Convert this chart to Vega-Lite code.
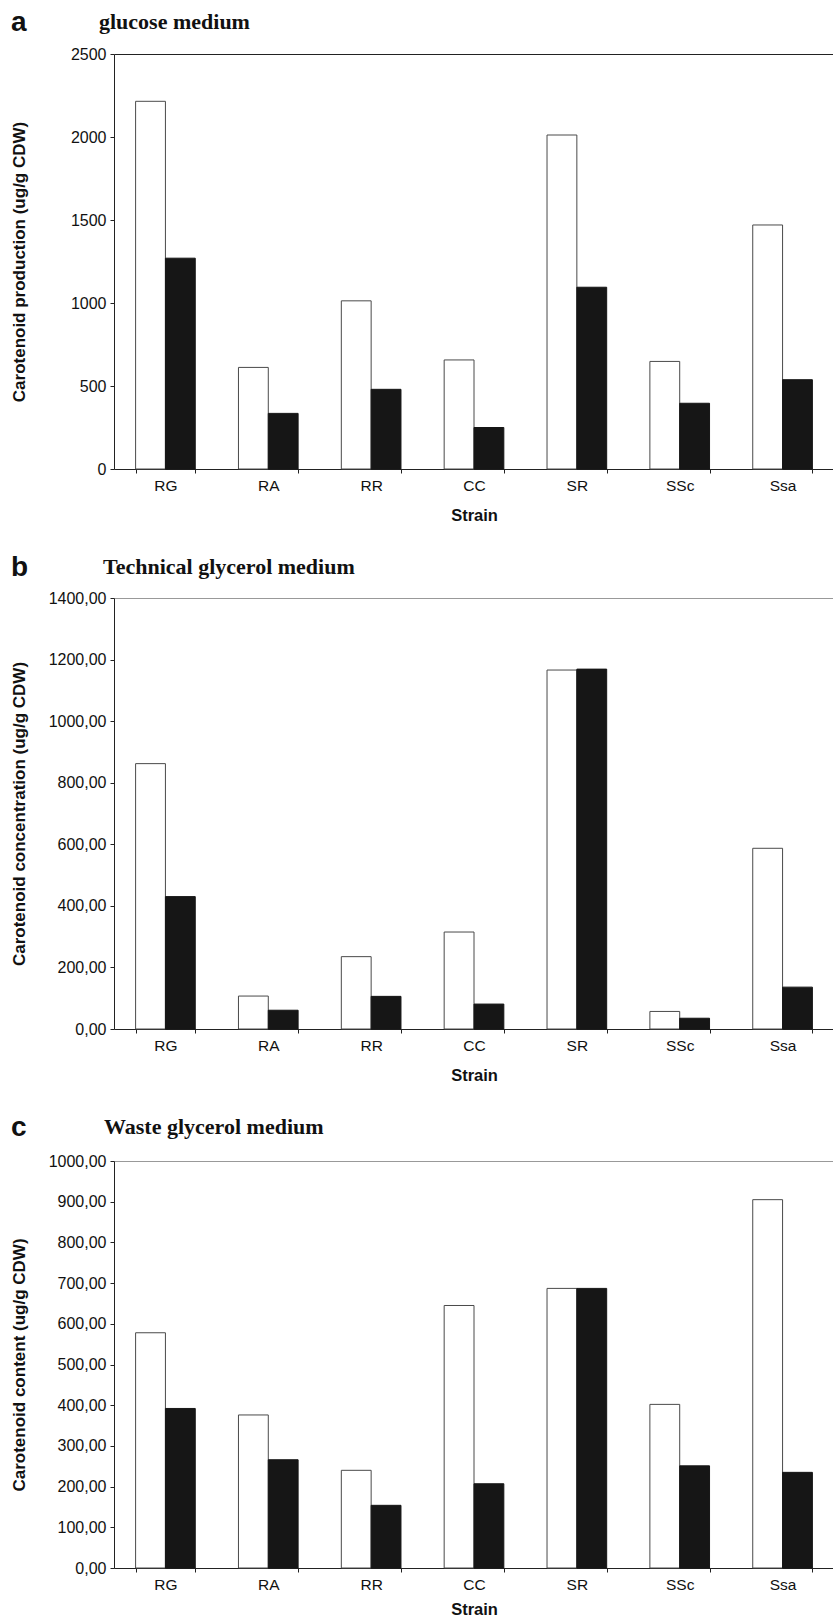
{
  "$schema": "https://vega.github.io/schema/vega-lite/v6.json",
  "background": "white",
  "padding": {"left": 9, "top": 9, "right": 0, "bottom": 0},
  "datasets": {
    "a": [
      {"strain": "RG", "series": "1", "value": 2215}, {"strain": "RG", "series": "2", "value": 1270},
      {"strain": "RA", "series": "1", "value": 612}, {"strain": "RA", "series": "2", "value": 335},
      {"strain": "RR", "series": "1", "value": 1013}, {"strain": "RR", "series": "2", "value": 480},
      {"strain": "CC", "series": "1", "value": 657}, {"strain": "CC", "series": "2", "value": 250},
      {"strain": "SR", "series": "1", "value": 2012}, {"strain": "SR", "series": "2", "value": 1095},
      {"strain": "SSc", "series": "1", "value": 648}, {"strain": "SSc", "series": "2", "value": 396},
      {"strain": "Ssa", "series": "1", "value": 1470}, {"strain": "Ssa", "series": "2", "value": 538}
    ],
    "b": [
      {"strain": "RG", "series": "1", "value": 862}, {"strain": "RG", "series": "2", "value": 430},
      {"strain": "RA", "series": "1", "value": 107}, {"strain": "RA", "series": "2", "value": 61},
      {"strain": "RR", "series": "1", "value": 235}, {"strain": "RR", "series": "2", "value": 106},
      {"strain": "CC", "series": "1", "value": 315}, {"strain": "CC", "series": "2", "value": 81},
      {"strain": "SR", "series": "1", "value": 1166}, {"strain": "SR", "series": "2", "value": 1169},
      {"strain": "SSc", "series": "1", "value": 57}, {"strain": "SSc", "series": "2", "value": 35},
      {"strain": "Ssa", "series": "1", "value": 587}, {"strain": "Ssa", "series": "2", "value": 136}
    ],
    "c": [
      {"strain": "RG", "series": "1", "value": 578}, {"strain": "RG", "series": "2", "value": 392},
      {"strain": "RA", "series": "1", "value": 376}, {"strain": "RA", "series": "2", "value": 266},
      {"strain": "RR", "series": "1", "value": 240}, {"strain": "RR", "series": "2", "value": 154},
      {"strain": "CC", "series": "1", "value": 645}, {"strain": "CC", "series": "2", "value": 207},
      {"strain": "SR", "series": "1", "value": 687}, {"strain": "SR", "series": "2", "value": 687},
      {"strain": "SSc", "series": "1", "value": 402}, {"strain": "SSc", "series": "2", "value": 251},
      {"strain": "Ssa", "series": "1", "value": 905}, {"strain": "Ssa", "series": "2", "value": 235}
    ]
  },
  "spacing": 30,
  "vconcat": [
    {
      "title": {"text": "a", "anchor": "start", "frame": "bounds", "dx": 1, "font": "Liberation Sans", "fontSize": 28, "fontWeight": "bold", "offset": -26, "color": "#111"},
      "vconcat": [
        {
          "title": {"text": "glucose medium", "anchor": "start", "frame": "group", "dx": -15, "font": "Liberation Serif", "fontSize": 22, "fontWeight": "bold", "offset": 12, "color": "#111"},
          "width": 720, "height": 415,
          "data": {"name": "a"},
          "mark": {"type": "bar", "strokeWidth": 1},
          "encoding": {
            "x": {"field": "strain", "type": "nominal", "sort": ["RG", "RA", "RR", "CC", "SR", "SSc", "Ssa"],
                  "scale": {"paddingInner": 0.42, "paddingOuter": 0.21},
                  "axis": {"title": "Strain", "labelAngle": 0, "tickBand": "extent", "titlePadding": 14}},
            "xOffset": {"field": "series", "type": "nominal", "scale": {"paddingInner": 0, "paddingOuter": 0}},
            "y": {"field": "value", "type": "quantitative", "scale": {"domain": [0, 2500], "nice": false},
                  "axis": {"title": "Carotenoid production (ug/g CDW)", "values": [0, 500, 1000, 1500, 2000, 2500], "format": "d", "titleX": -95,
                           "gridColor": {"condition": {"test": "datum.value === 2500", "value": "#222"}, "value": "transparent"}}},
            "fill": {"field": "series", "type": "nominal", "scale": {"domain": ["1", "2"], "range": ["#ffffff", "#161616"]}, "legend": null},
            "stroke": {"field": "series", "type": "nominal", "scale": {"domain": ["1", "2"], "range": ["#4a4a4a", "#161616"]}, "legend": null}
          }
        }
      ]
    },
    {
      "title": {"text": "b", "anchor": "start", "frame": "bounds", "dx": 1, "font": "Liberation Sans", "fontSize": 28, "fontWeight": "bold", "offset": -26, "color": "#111"},
      "vconcat": [
        {
          "title": {"text": "Technical glycerol medium", "anchor": "start", "frame": "group", "dx": -11, "font": "Liberation Serif", "fontSize": 22, "fontWeight": "bold", "offset": 11, "color": "#111"},
          "width": 720, "height": 431,
          "data": {"name": "b"},
          "mark": {"type": "bar", "strokeWidth": 1},
          "encoding": {
            "x": {"field": "strain", "type": "nominal", "sort": ["RG", "RA", "RR", "CC", "SR", "SSc", "Ssa"],
                  "scale": {"paddingInner": 0.42, "paddingOuter": 0.21},
                  "axis": {"title": "Strain", "labelAngle": 0, "tickBand": "extent", "titlePadding": 14}},
            "xOffset": {"field": "series", "type": "nominal", "scale": {"paddingInner": 0, "paddingOuter": 0}},
            "y": {"field": "value", "type": "quantitative", "scale": {"domain": [0, 1400], "nice": false},
                  "axis": {"title": "Carotenoid concentration (ug/g CDW)", "values": [0, 200, 400, 600, 800, 1000, 1200, 1400], "labelExpr": "replace(format(datum.value, '.2f'), '.', ',')", "titleX": -95,
                           "gridColor": {"condition": {"test": "datum.value === 1400", "value": "#999"}, "value": "transparent"}}},
            "fill": {"field": "series", "type": "nominal", "scale": {"domain": ["1", "2"], "range": ["#ffffff", "#161616"]}, "legend": null},
            "stroke": {"field": "series", "type": "nominal", "scale": {"domain": ["1", "2"], "range": ["#4a4a4a", "#161616"]}, "legend": null}
          }
        }
      ]
    },
    {
      "title": {"text": "c", "anchor": "start", "frame": "bounds", "dx": 1, "font": "Liberation Sans", "fontSize": 28, "fontWeight": "bold", "offset": -26, "color": "#111"},
      "vconcat": [
        {
          "title": {"text": "Waste glycerol medium", "anchor": "start", "frame": "group", "dx": -10, "font": "Liberation Serif", "fontSize": 22, "fontWeight": "bold", "offset": 14, "color": "#111"},
          "width": 720, "height": 407,
          "data": {"name": "c"},
          "mark": {"type": "bar", "strokeWidth": 1},
          "encoding": {
            "x": {"field": "strain", "type": "nominal", "sort": ["RG", "RA", "RR", "CC", "SR", "SSc", "Ssa"],
                  "scale": {"paddingInner": 0.42, "paddingOuter": 0.21},
                  "axis": {"title": "Strain", "labelAngle": 0, "tickBand": "extent", "titlePadding": 9}},
            "xOffset": {"field": "series", "type": "nominal", "scale": {"paddingInner": 0, "paddingOuter": 0}},
            "y": {"field": "value", "type": "quantitative", "scale": {"domain": [0, 1000], "nice": false},
                  "axis": {"title": "Carotenoid content (ug/g CDW)", "values": [0, 100, 200, 300, 400, 500, 600, 700, 800, 900, 1000], "labelExpr": "replace(format(datum.value, '.2f'), '.', ',')", "titleX": -95,
                           "gridColor": {"condition": {"test": "datum.value === 1000", "value": "#999"}, "value": "transparent"}}},
            "fill": {"field": "series", "type": "nominal", "scale": {"domain": ["1", "2"], "range": ["#ffffff", "#161616"]}, "legend": null},
            "stroke": {"field": "series", "type": "nominal", "scale": {"domain": ["1", "2"], "range": ["#4a4a4a", "#161616"]}, "legend": null}
          }
        }
      ]
    }
  ],
  "config": {
    "view": {"stroke": null},
    "axis": {
      "domainColor": "#222", "tickColor": "#222", "tickSize": 4,
      "labelFont": "Liberation Sans", "labelFontSize": 15.5, "labelColor": "#111",
      "titleFont": "Liberation Sans", "titleFontSize": 17, "titleFontWeight": "bold", "titleColor": "#111",
      "grid": false
    },
    "axisX": {"labelPadding": 5, "titleFontSize": 16.5},
    "axisY": {"labelPadding": 4, "labelFontSize": 16, "grid": true, "gridWidth": 1, "titleBaseline": "middle"}
  }
}
